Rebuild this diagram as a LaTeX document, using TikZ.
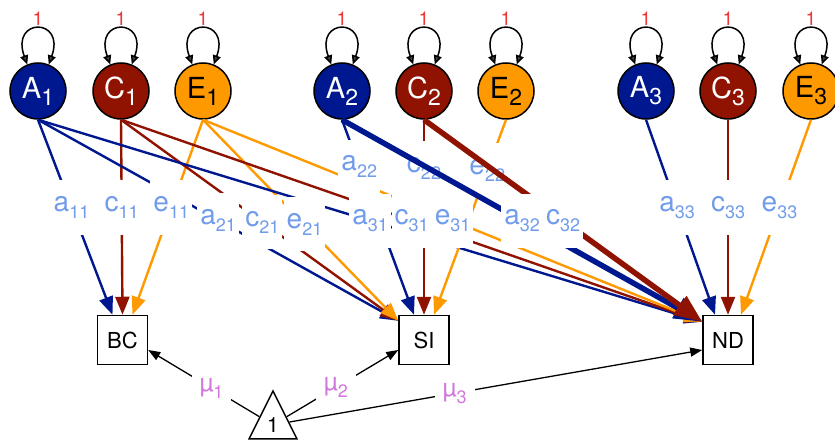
\documentclass[tikz,border=0pt]{standalone}
\usepackage{fontspec}
\setmainfont{TeX Gyre Heros}
\usetikzlibrary{arrows.meta,shapes.geometric}

\definecolor{colA}{RGB}{0,24,143}
\definecolor{colC}{RGB}{143,19,0}
\definecolor{colE}{RGB}{255,153,0}
\definecolor{labblue}{RGB}{112,156,235}
\definecolor{labmu}{RGB}{210,120,220}
\definecolor{varred}{RGB}{238,55,55}

% texte avec indice
\newcommand{\lab}[3][18]{#2\raisebox{-7pt}{\fontsize{#1}{#1}\selectfont #3}}

\tikzset{
  latent/.style={circle, draw=black, line width=1.5pt, minimum size=56pt, inner sep=0pt,
    font=\fontsize{29}{29}\selectfont},
  latA/.style={latent, fill=colA, text=white},
  latC/.style={latent, fill=colC, text=white},
  latE/.style={latent, fill=colE, text=black},
  obs/.style={rectangle, draw=black, line width=1.5pt, minimum width=50pt, minimum height=49pt,
    font=\fontsize{22}{22}\selectfont},
  varloop/.style={draw=black, line width=1.5pt,
    {Triangle[length=9pt,width=8pt,fill=black!75]}-{Triangle[length=9pt,width=8pt,fill=black!75]}},
  varlbl/.style={text=varred, font=\fontsize{19}{19}\selectfont},
  thinedge/.style={draw=#1, line width=2.4pt, -{Triangle[length=18pt,width=14pt]}},
  thickedge/.style={draw=#1, line width=5.5pt, -{Triangle[length=28pt,width=22pt]}},
  lbl/.style={fill=white, text=labblue, inner xsep=3pt, inner ysep=0pt, minimum height=54pt,
    font=\fontsize{28}{28}\selectfont},
  muedge/.style={draw=black, line width=1.3pt, -{Triangle[length=12pt,width=9pt]}},
  mulbl/.style={fill=white, text=labmu, inner xsep=8pt, inner ysep=3pt,
    font=\fontsize{25}{25}\selectfont}
}

\begin{document}
\begin{tikzpicture}[x=1pt,y=1pt]
  \useasboundingbox (0,0) rectangle (835,-441);

  % Facteurs latents
  \node[latA] (A1) at (38,-91)  {\lab[23]{A}{1}};
  \node[latC] (C1) at (121,-91) {\lab[23]{C}{1}};
  \node[latE] (E1) at (203,-91) {\lab[23]{E}{1}};
  \node[latA] (A2) at (342,-91) {\lab[23]{A}{2}};
  \node[latC] (C2) at (424,-91) {\lab[23]{C}{2}};
  \node[latE] (E2) at (506,-91) {\lab[23]{E}{2}};
  \node[latA] (A3) at (646,-91) {\lab[23]{A}{3}};
  \node[latC] (C3) at (728,-91) {\lab[23]{C}{3}};
  \node[latE] (E3) at (811,-91) {\lab[23]{E}{3}};

  % Variables observées
  \node[obs] (BC) at (122.5,-340) {BC};
  \node[obs] (SI) at (424,-340) {SI};
  \node[obs] (ND) at (728,-340) {ND};

  % Constante
  \node[draw, line width=1.5pt, isosceles triangle, isosceles triangle stretches,
    shape border rotate=90, minimum width=48pt, minimum height=48pt, inner sep=0pt,
    font=\fontsize{21}{21}\selectfont, anchor=apex] (one) at (273,-389) {1};

  % Variances (boucles)
  \foreach \n in {A1,C1,E1,A2,C2,E2,A3,C3,E3} {
    \draw[varloop] (\n.112) .. controls +(110:50) and +(70:50) .. (\n.68);
    \node[varlbl] (v\n) at ([yshift=72pt]\n.center) {1};
  }

  % Points d'arrivée
  \coordinate (BCa) at ([xshift=-10pt]BC.north);
  \coordinate (BCc) at (BC.north);
  \coordinate (BCe) at ([xshift=10pt]BC.north);
  \coordinate (SIa) at ([xshift=-10pt]SI.north);
  \coordinate (SIc) at (SI.north);
  \coordinate (SIe) at ([xshift=10pt]SI.north);
  \coordinate (SIl) at ([yshift=-6pt]SI.north west);
  \coordinate (NDa) at ([xshift=-13pt]ND.north);
  \coordinate (NDc) at (ND.north);
  \coordinate (NDe) at ([xshift=13pt]ND.north);
  \coordinate (NDl) at ([yshift=-7pt]ND.north west);

  % Chemins
  \foreach \s/\t/\c in {A1/BCa/colA, C1/BCc/colC, E1/BCe/colE,
      A1/SIl/colA, C1/SIl/colC, E1/SIl/colE,
      A1/NDl/colA, C1/NDl/colC, E1/NDl/colE,
      A2/SIa/colA, C2/SIc/colC, E2/SIe/colE,
      A3/NDa/colA, C3/NDc/colC, E3/NDe/colE}
    \draw[thinedge=\c] (\s.south) -- (\t);

  % Coefficients
  \foreach \s/\t/\p/\l/\n in {A1/BCa/.45/a/11, C1/BCc/.45/c/11, E1/BCe/.45/e/11,
      A1/SIl/.5/a/21, C1/SIl/.51/c/21, E1/SIl/.52/e/21,
      A1/NDl/.5/a/31, C1/NDl/.5/c/31, E1/NDl/.5/e/31,
      A2/SIa/.24/a/22, C2/SIc/.25/c/22, E2/SIe/.26/e/22,
      A3/NDa/.45/a/33, C3/NDc/.45/c/33, E3/NDe/.45/e/33}
    \path (\s.south) -- (\t) node[lbl, pos=\p] (l\l\n) {\lab{\l}{\n}};

  % Chemins épais
  \draw[thickedge=colA] (A2.south) -- (NDl);
  \draw[thickedge=colC] (C2.south) -- (NDl);
  \path (A2.south) -- (NDl) node[lbl, pos=.5] (la32) {\lab{a}{32}};
  \path (C2.south) -- (NDl) node[lbl, pos=.5] (lc32) {\lab{c}{32}};

  % Moyennes
  \coordinate (BCm) at ([yshift=-10pt]BC.east);
  \coordinate (SIm) at ([yshift=-10pt]SI.west);
  \coordinate (NDm) at ([yshift=-10pt]ND.west);
  \draw[muedge] (one) -- (BCm) node[mulbl, pos=.43] (mu1) {\lab[18]{µ}{1}};
  \draw[muedge] (one) -- (SIm) node[mulbl, pos=.44] (mu2) {\lab[18]{µ}{2}};
  \draw[muedge] (one) -- (NDm) node[mulbl, pos=.4] (mu3) {\lab[18]{µ}{3}};
\end{tikzpicture}
\end{document}
